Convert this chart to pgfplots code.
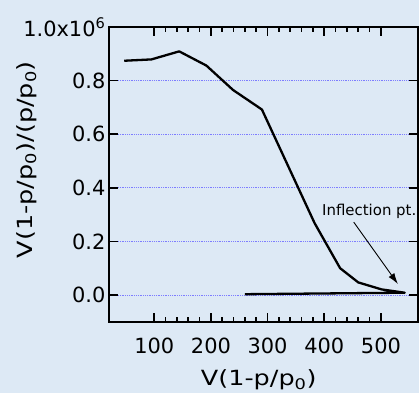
\documentclass[border=0pt]{standalone}
\usepackage{fontspec}
\setmainfont{DejaVu Sans}
\newfontfamily\labelfont[FakeStretch=1.22]{DejaVu Sans}
\usepackage{pgfplots}
\pgfplotsset{compat=1.18}
\usetikzlibrary{arrows.meta}
\definecolor{bgcol}{RGB}{221,233,245}
\definecolor{gridblue}{RGB}{125,125,255}
\begin{document}
\begin{tikzpicture}
\fill[bgcol] (-109bp,-71bp) rectangle (310bp,322bp);
\begin{axis}[
  scale only axis,
  width=309bp, height=295bp,
  at={(0,0)}, anchor=south west,
  xmin=20, xmax=565,
  ymin=-100000, ymax=1000000,
  xtick={100,200,300,400,500},
  minor x tick num=4,
  ytick={0,200000,400000,600000,800000,1000000},
  yticklabels={0.0,0.2,0.4,0.6,0.8,1.0x10\textsuperscript{6}},
  scaled y ticks=false,
  /pgf/number format/assume math mode=true,
  tick align=inside,
  major tick length=9bp,
  minor tick length=5bp,
  every tick/.append style={black, line width=1.6bp},
  axis line style={black, line width=2.5bp},
  ymajorgrids,
  major grid style={gridblue, line width=0.8bp, dash pattern=on 0.9bp off 0.9bp},
  tick label style={font=\fontsize{21}{25}\selectfont},
  xticklabel style={yshift=-13bp},
  clip=false,
]
\addplot[black, line width=2.3bp, line join=round] coordinates {
  (47,874000) (95,879000) (144,909000) (192,856000) (239,765000)
  (290,692000) (383,268000) (428,100000) (460,47000) (501,21000)
  (542,8600) (260,3000)
};
\node[anchor=base west, font=\fontsize{15}{18}\selectfont, inner sep=0pt] at (axis cs:396,298500) {Inflection pt.};
\draw[black, line width=0.9bp, -{Latex[length=11bp,width=7bp]}] (axis cs:452,272000) -- (axis cs:530,41000);
\node[anchor=base, inner sep=0pt, font=\labelfont\fontsize{21}{25}\selectfont] at ([yshift=-64bp]axis description cs:0.485,0) {V(1-p/p\textsubscript{0})};
\node[anchor=base, rotate=90, inner sep=0pt, font=\labelfont\fontsize{21}{25}\selectfont] at (axis description cs:-0.246,0.55) {V(1-p/p\textsubscript{0})/(p/p\textsubscript{0})};
\end{axis}
\end{tikzpicture}
\end{document}
